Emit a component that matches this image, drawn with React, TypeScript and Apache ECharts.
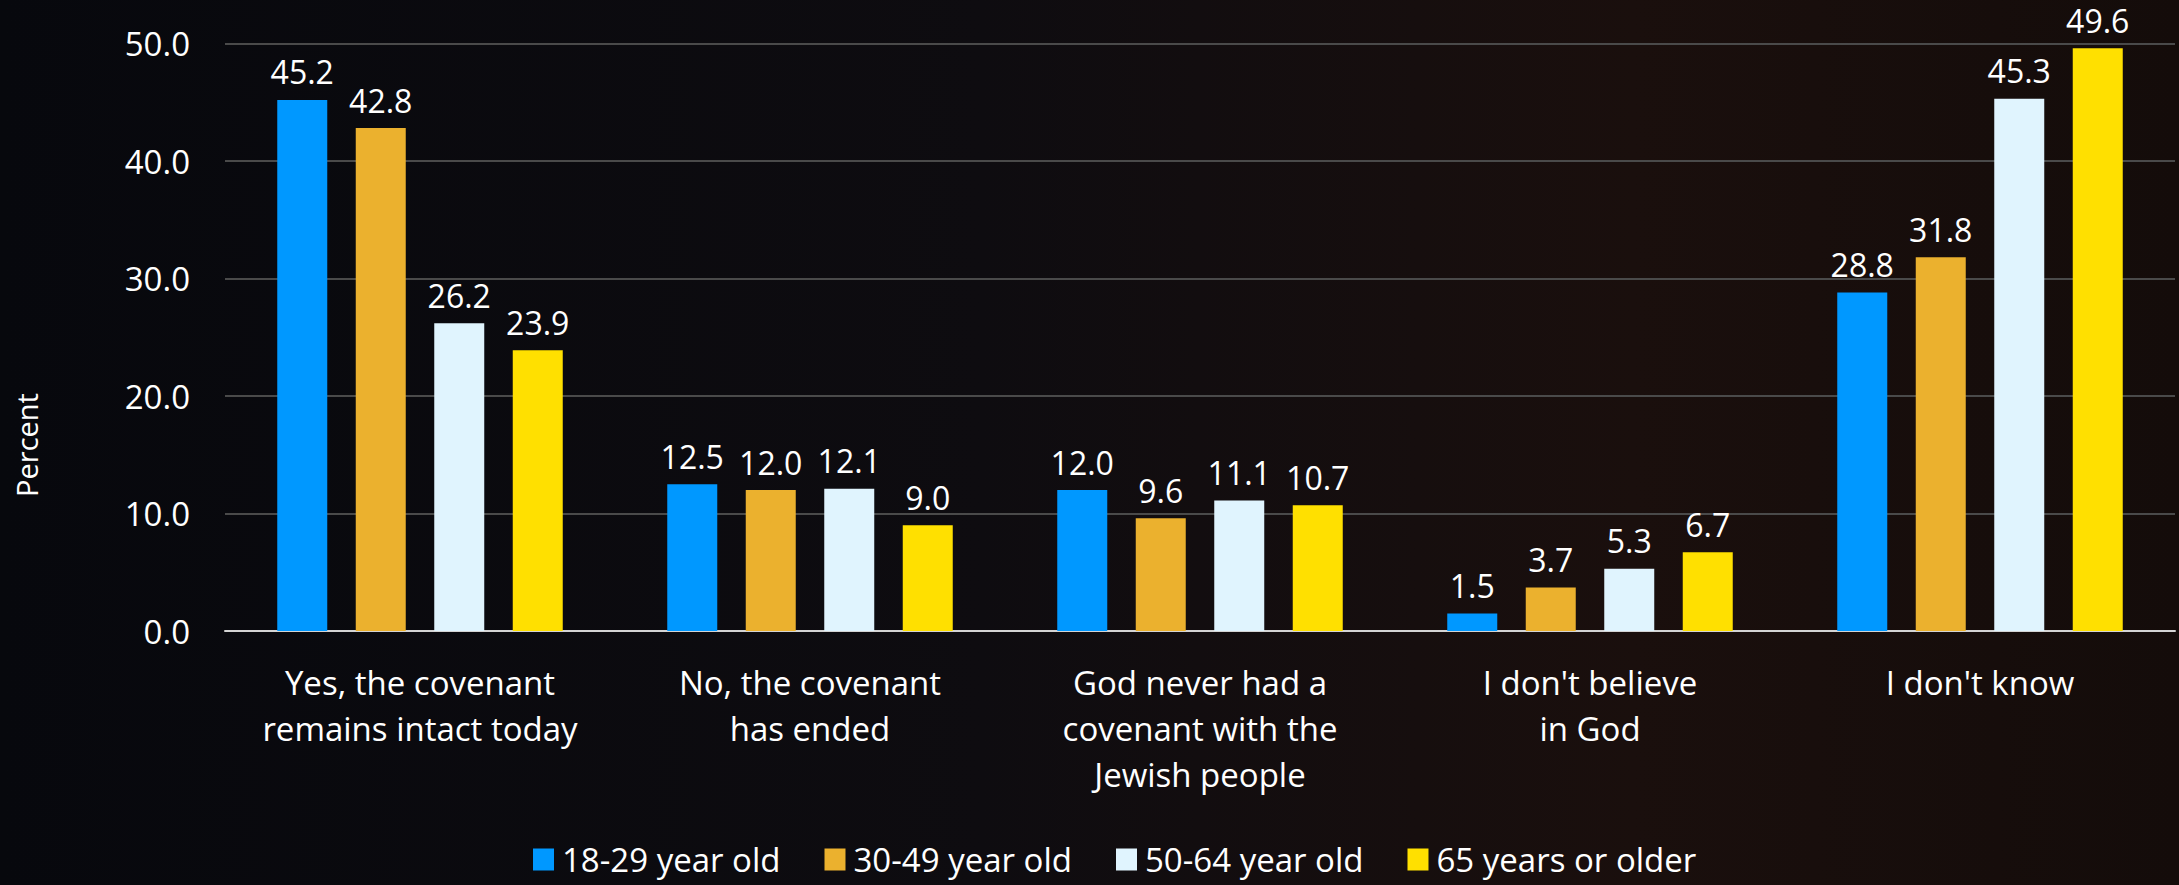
import React, { useEffect, useRef } from "react";
import * as echarts from "echarts";

const categories = [
  "Yes, the covenant\nremains intact today",
  "No, the covenant\nhas ended",
  "God never had a\ncovenant with the\nJewish people",
  "I don't believe\nin God",
  "I don't know",
];
const seriesNames = ["18-29 year old", "30-49 year old", "50-64 year old", "65 years or older"];
const age18to29 = [45.2, 12.5, 12.0, 1.5, 28.8];
const age30to49 = [42.8, 12.0, 9.6, 3.7, 31.8];
const age50to64 = [26.2, 12.1, 11.1, 5.3, 45.3];
const age65plus = [23.9, 9.0, 10.7, 6.7, 49.6];
const colors = ["#0098FF", "#EBB12E", "#E0F4FE", "#FFE000"];
const yTicks = { min: 0, max: 50, interval: 10 };

const FONT = "'Open Sans', 'Noto Sans', sans-serif";

export default function App() {
  const ref = useRef<HTMLDivElement>(null);
  useEffect(() => {
    document.body.style.margin = "0";
    const chart = echarts.init(ref.current!, null, { renderer: "svg" });
    const data = [age18to29, age30to49, age50to64, age65plus];
    chart.setOption({
      animation: false,
      backgroundColor: {
        type: "linear",
        x: 0,
        y: 0,
        x2: 1,
        y2: 0,
        colorStops: [
          { offset: 0, color: "#07080d" },
          { offset: 0.45, color: "#0e0c10" },
          { offset: 0.75, color: "#1a0f0d" },
          { offset: 1, color: "#140c0a" },
        ],
      },
      textStyle: { fontFamily: FONT },
      grid: { left: 225, right: 4, top: 43.5, bottom: 254, containLabel: false },
      legend: {
        data: seriesNames,
        left: 533,
        top: 843,
        padding: 0,
        itemWidth: 21,
        itemHeight: 22,
        itemGap: 44,
        icon: "rect",
        textStyle: { color: "#ffffff", fontSize: 33, fontFamily: FONT, padding: [0, 0, 0, 3] },
      },
      xAxis: {
        type: "category",
        data: categories,
        axisLine: { lineStyle: { color: "#d4d4d4", width: 2 } },
        axisTick: { show: false },
        axisLabel: {
          color: "#ffffff",
          fontSize: 33,
          lineHeight: 46,
          margin: 28,
          interval: 0,
          fontFamily: FONT,
        },
      },
      yAxis: {
        type: "value",
        min: yTicks.min,
        max: yTicks.max,
        interval: yTicks.interval,
        axisLine: { show: false },
        axisTick: { show: false },
        splitLine: { lineStyle: { color: "#4a4a4a", width: 2 } },
        axisLabel: {
          color: "#ffffff",
          fontSize: 33,
          margin: 35,
          fontFamily: FONT,
          formatter: (v: number) => v.toFixed(1),
        },
      },
      graphic: [
        {
          type: "text",
          x: 26,
          y: 445,
          rotation: Math.PI / 2,
          style: {
            text: "Percent",
            fill: "#ffffff",
            fontSize: 29,
            fontFamily: FONT,
            textAlign: "center",
            textVerticalAlign: "middle",
          },
        },
      ],
      series: seriesNames.map((name, i) => ({
        name,
        type: "bar",
        data: data[i],
        barWidth: 50,
        barGap: "57%",
        itemStyle: { color: colors[i] },
        label: {
          show: true,
          position: "top",
          distance: 12,
          color: "#ffffff",
          fontSize: 32,
          fontFamily: FONT,
          formatter: (p: any) => Number(p.value).toFixed(1),
        },
      })),
    });
    return () => chart.dispose();
  }, []);
  return <div ref={ref} style={{ position: "fixed", left: 0, top: 0, width: 2179, height: 885 }} />;
}
